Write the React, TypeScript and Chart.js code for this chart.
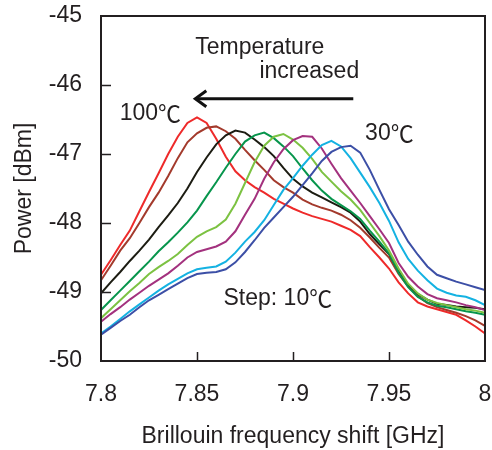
import React, { useEffect, useRef } from "react";
import { Chart, registerables } from "chart.js";

Chart.register(...registerables);

// Brillouin frequency shift [GHz]
const freqs = [
  7.8, 7.805, 7.81, 7.815, 7.82, 7.825, 7.83, 7.835, 7.84, 7.845,
  7.85, 7.855, 7.86, 7.865, 7.87, 7.875, 7.88, 7.885, 7.89, 7.895,
  7.9, 7.905, 7.91, 7.915, 7.92, 7.925, 7.93, 7.935, 7.94, 7.945,
  7.95, 7.955, 7.96, 7.965, 7.97, 7.975, 7.98, 7.985, 7.99, 7.995, 8.0,
];

const p30 = [
  -49.62, -49.52, -49.42, -49.33, -49.22, -49.12, -49.04, -48.96, -48.88, -48.80,
  -48.74, -48.72, -48.71, -48.67, -48.57, -48.42, -48.25, -48.07, -47.92, -47.77,
  -47.62, -47.45, -47.28, -47.10, -46.97, -46.90, -46.88, -46.98, -47.23, -47.52,
  -47.80, -48.03, -48.27, -48.46, -48.63, -48.75, -48.80, -48.85, -48.89, -48.93, -48.97,
];
const p40 = [
  -49.60, -49.50, -49.39, -49.28, -49.18, -49.08, -48.98, -48.89, -48.81, -48.73,
  -48.67, -48.65, -48.63, -48.56, -48.43, -48.27, -48.13, -47.96, -47.74, -47.52,
  -47.35, -47.17, -47.01, -46.87, -46.81, -46.89, -47.06, -47.27, -47.48, -47.71,
  -47.97, -48.28, -48.52, -48.69, -48.83, -48.95, -49.01, -49.05, -49.07, -49.12, -49.19,
];
const p50 = [
  -49.43, -49.32, -49.22, -49.11, -49.01, -48.91, -48.82, -48.73, -48.62, -48.50,
  -48.42, -48.38, -48.34, -48.27, -48.12, -47.88, -47.65, -47.36, -47.12, -46.93,
  -46.80, -46.74, -46.75, -46.92, -47.14, -47.35, -47.53, -47.71, -47.90, -48.09,
  -48.29, -48.58, -48.78, -48.92, -49.03, -49.09, -49.12, -49.15, -49.19, -49.22, -49.26,
];
const p60 = [
  -49.38, -49.25, -49.12, -48.99, -48.87, -48.74, -48.64, -48.55, -48.45, -48.32,
  -48.20, -48.12, -48.06, -47.95, -47.72, -47.42, -47.12, -46.88, -46.75, -46.71,
  -46.79, -46.91, -47.07, -47.26, -47.40, -47.54, -47.66, -47.81, -48.00, -48.19,
  -48.40, -48.66, -48.88, -49.02, -49.11, -49.16, -49.19, -49.22, -49.25, -49.27, -49.30,
];
const p70 = [
  -49.26, -49.12, -48.98, -48.84, -48.70, -48.56, -48.41, -48.28, -48.14, -47.99,
  -47.82, -47.61, -47.41, -47.20, -47.00, -46.82, -46.73, -46.69, -46.77, -46.89,
  -47.03, -47.21, -47.38, -47.53, -47.65, -47.74, -47.83, -47.94, -48.11, -48.27,
  -48.44, -48.72, -48.93, -49.07, -49.15, -49.20, -49.22, -49.25, -49.28, -49.30, -49.33,
];
const p80 = [
  -49.02, -48.86, -48.71, -48.55, -48.40, -48.24, -48.06, -47.89, -47.71, -47.50,
  -47.26, -47.05, -46.86, -46.73, -46.66, -46.69, -46.79, -46.90, -47.03, -47.20,
  -47.36, -47.47, -47.56, -47.63, -47.70, -47.77, -47.85, -47.98, -48.16, -48.31,
  -48.45, -48.70, -48.90, -49.03, -49.11, -49.17, -49.19, -49.21, -49.22, -49.23, -49.25,
];
const p90 = [
  -48.83, -48.62, -48.40, -48.22, -48.00, -47.77, -47.56, -47.32, -47.06, -46.83,
  -46.70, -46.62, -46.60, -46.67, -46.78, -46.94, -47.09, -47.23, -47.38, -47.48,
  -47.56, -47.66, -47.73, -47.78, -47.82, -47.88, -47.96, -48.07, -48.21, -48.36,
  -48.50, -48.74, -48.92, -49.06, -49.16, -49.22, -49.26, -49.30, -49.35, -49.41, -49.49,
];
const p100 = [
  -48.75, -48.54, -48.32, -48.11, -47.83, -47.55, -47.28, -47.00, -46.75, -46.55,
  -46.47, -46.55, -46.78, -47.04, -47.25, -47.38, -47.48, -47.56, -47.65, -47.72,
  -47.79, -47.85, -47.90, -47.94, -47.98, -48.04, -48.10, -48.19, -48.35, -48.50,
  -48.66, -48.86, -49.02, -49.15, -49.21, -49.25, -49.29, -49.33, -49.41, -49.50, -49.60,
];

const seriesNames = ["30℃", "40℃", "50℃", "60℃", "70℃", "80℃", "90℃", "100℃"];
const seriesValues = [p30, p40, p50, p60, p70, p80, p90, p100];
const seriesColors = [
  "#3c4fa6", "#14b2e2", "#a3317e", "#7cc242", "#07954c", "#1c1c12", "#a33a2c", "#ee2a2a",
];

const xTickValues = [7.8, 7.85, 7.9, 7.95, 8];
const xTickLabels = ["7.8", "7.85", "7.9", "7.95", "8"];
const yTickValues = [-50, -49, -48, -47, -46, -45];
const yTickLabels = ["-50", "-49", "-48", "-47", "-46", "-45"];

const xTitle = "Brillouin frequency shift [GHz]";
const yTitle = "Power [dBm]";

// annotations: [text, x (GHz), y (dBm)]
const annotations: [string, number, number][] = [
  ["Temperature", 7.8827, -45.46],
  ["increased", 7.9085, -45.81],
  ["100℃", 7.8257, -46.41],
  ["30℃", 7.9502, -46.7],
  ["Step: 10℃", 7.8921, -49.09],
];
const arrowFrom: [number, number] = [7.9314, -46.2];
const arrowTo: [number, number] = [7.8486, -46.2];

const FONT = '"Liberation Sans", Arial, sans-serif';
const CJK = '"Noto Sans CJK JP", sans-serif';
const FS = 23;
const INK = "#231f20";

function drawMixed(ctx: CanvasRenderingContext2D, text: string, cx: number, cy: number) {
  const parts = text.split(/(℃)/).filter((p) => p.length > 0);
  const fontOf = (p: string) => (p === "℃" ? `${FS}px ${CJK}` : `${FS}px ${FONT}`);
  let total = 0;
  const widths = parts.map((p) => {
    ctx.font = fontOf(p);
    const w = ctx.measureText(p).width;
    total += w;
    return w;
  });
  let x = cx - total / 2;
  ctx.textAlign = "left";
  ctx.textBaseline = "middle";
  parts.forEach((p, i) => {
    ctx.font = fontOf(p);
    ctx.fillText(p, x, cy);
    x += widths[i];
  });
}

const framePlugin = {
  id: "frameAndNotes",
  afterDraw(chart: any) {
    const { ctx, chartArea, scales } = chart;
    const { left, right, top, bottom } = chartArea;
    const xs = scales.x;
    const ys = scales.y;
    ctx.save();
    ctx.strokeStyle = INK;
    ctx.lineWidth = 1.5;
    ctx.beginPath();
    xTickValues.slice(1, -1).forEach((v) => {
      const px = Math.round(xs.getPixelForValue(v)) + 0.5;
      ctx.moveTo(px, bottom);
      ctx.lineTo(px, bottom - 9);
    });
    yTickValues.slice(1, -1).forEach((v) => {
      const py = Math.round(ys.getPixelForValue(v)) + 0.5;
      ctx.moveTo(left, py);
      ctx.lineTo(left + 10, py);
    });
    ctx.stroke();
    ctx.lineWidth = 2;
    ctx.strokeRect(left, top, right - left, bottom - top);

    ctx.fillStyle = INK;
    annotations.forEach(([t, x, y]) => {
      drawMixed(ctx, t, xs.getPixelForValue(x), ys.getPixelForValue(y));
    });

    const ax1 = xs.getPixelForValue(arrowFrom[0]);
    const ay1 = ys.getPixelForValue(arrowFrom[1]);
    const ax2 = xs.getPixelForValue(arrowTo[0]);
    const ay2 = ys.getPixelForValue(arrowTo[1]);
    ctx.lineWidth = 3;
    ctx.strokeStyle = "#111";
    ctx.beginPath();
    ctx.moveTo(ax1, ay1);
    ctx.lineTo(ax2 + 2, ay2);
    ctx.stroke();
    ctx.beginPath();
    ctx.moveTo(ax2 + 12, ay2 - 8);
    ctx.lineTo(ax2 + 1, ay2);
    ctx.lineTo(ax2 + 12, ay2 + 8);
    ctx.stroke();
    ctx.restore();
  },
};

export default function App() {
  const ref = useRef<HTMLCanvasElement | null>(null);
  useEffect(() => {
    document.body.style.margin = "0";
    if (!ref.current) return;
    const chart = new Chart(ref.current, {
      type: "line",
      data: {
        datasets: seriesValues.map((vals, i) => ({
          label: seriesNames[i],
          data: freqs.map((f, j) => ({ x: f, y: vals[j] })),
          borderColor: seriesColors[i],
          backgroundColor: seriesColors[i],
          borderWidth: 2,
          pointRadius: 0,
          tension: 0,
          fill: false,
        })),
      },
      options: {
        responsive: false,
        animation: false,
        events: [],
        layout: { padding: { left: 0, right: 7, top: 16, bottom: 0 } },
        plugins: { legend: { display: false }, tooltip: { enabled: false } },
        scales: {
          x: {
            type: "linear",
            min: 7.8,
            max: 8,
            afterFit: (s: any) => {
              s.height = 89;
              s.paddingLeft = 0;
              s.paddingRight = 0;
            },
            afterBuildTicks: (s: any) => {
              s.ticks = xTickValues.map((v) => ({ value: v }));
            },
            ticks: {
              autoSkip: false,
              maxRotation: 0,
              padding: 20,
              color: INK,
              font: { family: FONT, size: FS },
              callback: (_v: any, i: number) => xTickLabels[i],
            },
            grid: { display: false, drawTicks: false },
            border: { display: false },
            title: {
              display: true,
              text: xTitle,
              color: INK,
              font: { family: FONT, size: FS },
              padding: { top: 0, bottom: 0 },
            },
          },
          y: {
            type: "linear",
            min: -50,
            max: -45,
            afterFit: (s: any) => {
              s.width = 101;
              s.paddingTop = 0;
              s.paddingBottom = 0;
            },
            afterBuildTicks: (s: any) => {
              s.ticks = yTickValues.map((v) => ({ value: v }));
            },
            ticks: {
              autoSkip: false,
              padding: 19,
              color: INK,
              font: { family: FONT, size: FS },
              callback: (_v: any, i: number) => yTickLabels[i],
            },
            grid: { display: false, drawTicks: false },
            border: { display: false },
            title: {
              display: true,
              text: yTitle,
              color: INK,
              font: { family: FONT, size: FS },
              padding: { top: 11, bottom: 0 },
            },
          },
        },
      },
      plugins: [framePlugin],
    });
    return () => chart.destroy();
  }, []);
  return (
    <div style={{ position: "fixed", left: 0, top: 0, width: 492, height: 450, background: "#fff" }}>
      <canvas ref={ref} width={492} height={450} />
    </div>
  );
}
